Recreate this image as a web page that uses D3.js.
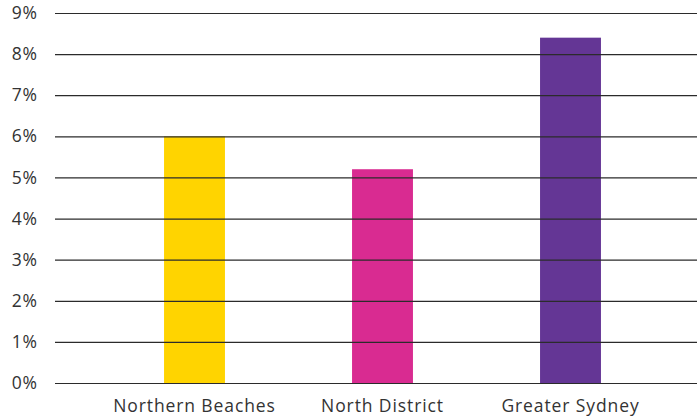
<!DOCTYPE html>
<html>
<head>
<meta charset="utf-8">
<script src="https://cdn.jsdelivr.net/npm/d3@7"></script>
<style>
  body { margin: 0; background: #fff; }
  svg { display: block; }
</style>
</head>
<body>
<svg id="chart" width="699" height="419"></svg>
<script>
// data
const regions = ["Northern Beaches", "North District", "Greater Sydney"];
const rates = [6.0, 5.2, 8.4];
const barColors = ["#FFD400", "#D92B91", "#643695"];
const yTicks = [0, 1, 2, 3, 4, 5, 6, 7, 8, 9];

const svg = d3.select("#chart");
const width = 699, height = 419;

const x = d3.scaleBand()
    .domain(regions)
    .range([100.5, 664.5])
    .paddingInner(0.676)
    .paddingOuter(0.338);

const y = d3.scaleLinear()
    .domain([0, 9])
    .range([383, 13]);

const font = "'Open Sans', sans-serif";

// bars
svg.append("g")
    .selectAll("rect")
    .data(regions)
    .join("rect")
    .attr("x", d => x(d))
    .attr("width", x.bandwidth())
    .attr("y", (d, i) => y(rates[i]))
    .attr("height", (d, i) => y(0) - y(rates[i]))
    .attr("fill", (d, i) => barColors[i]);

// gridlines on top of bars
const yAxis = d3.axisLeft(y)
    .tickValues(yTicks)
    .tickFormat(d => d + "%")
    .tickSize(-(697 - 55))
    .tickPadding(17);

const gy = svg.append("g")
    .attr("transform", "translate(55,0)")
    .call(yAxis);
gy.select(".domain").remove();
gy.selectAll(".tick line")
    .attr("stroke", "#2b2b2b")
    .attr("stroke-width", 1.2);
gy.selectAll(".tick text")
    .attr("fill", "#333")
    .style("font-family", font)
    .style("font-size", "17.5px")
    .style("letter-spacing", "0.9px");

// category labels
const xAxis = d3.axisBottom(x).tickSize(0).tickPadding(17);
const gx = svg.append("g")
    .attr("transform", "translate(0,383)")
    .call(xAxis);
gx.select(".domain").remove();
gx.selectAll(".tick text")
    .attr("fill", "#333")
    .style("font-family", font)
    .style("font-size", "17.5px")
    .style("letter-spacing", "0.9px");
</script>
</body>
</html>
